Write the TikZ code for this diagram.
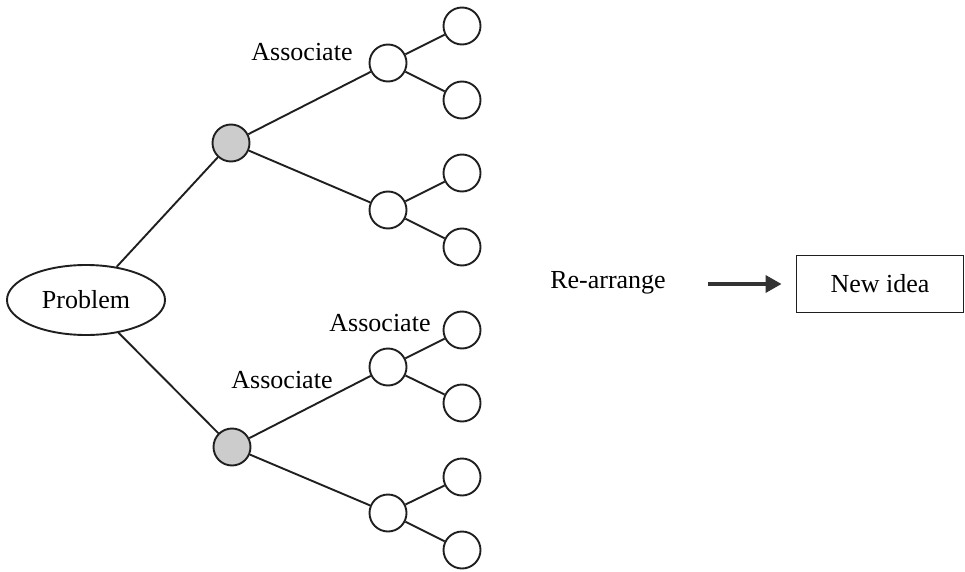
\documentclass[tikz,border=0pt]{standalone}
\usepackage{fontspec}
\setmainfont{Liberation Serif}
\usetikzlibrary{arrows.meta,shapes.geometric}
\begin{document}
\begin{tikzpicture}[x=1pt,y=-1pt,
  every node/.style={font=\fontsize{26}{30}\selectfont},
  lnk/.style={line width=1.9pt,draw=black!88},
  bub/.style={circle,draw=black!88,line width=1.9pt,minimum size=37pt,inner sep=0pt,fill=white},
  hub/.style={bub,fill=black!20},
  lbl/.style={inner sep=0pt}]
\useasboundingbox (0,0) rectangle (965,572);
\node[ellipse,draw=black!88,line width=1.9pt,minimum width=158pt,minimum height=70pt,inner sep=0pt] (prob) at (86,300) {Problem};
\node[hub] (g1) at (231,143) {};
\node[hub] (g2) at (232,447) {};
\node[bub] (a1) at (388,63) {};
\node[bub] (a2) at (388,210) {};
\node[bub] (b1) at (388,367) {};
\node[bub] (b2) at (388,513) {};
\node[bub] (l1) at (462,26) {};
\node[bub] (l2) at (462,100) {};
\node[bub] (l3) at (462,173) {};
\node[bub] (l4) at (462,247) {};
\node[bub] (l5) at (462,330) {};
\node[bub] (l6) at (462,403) {};
\node[bub] (l7) at (462,477) {};
\node[bub] (l8) at (462,550) {};
\draw[lnk] (prob) -- (g1);
\draw[lnk] (prob) -- (g2);
\draw[lnk] (g1) -- (a1);
\draw[lnk] (g1) -- (a2);
\draw[lnk] (g2) -- (b1);
\draw[lnk] (g2) -- (b2);
\draw[lnk] (a1) -- (l1);
\draw[lnk] (a1) -- (l2);
\draw[lnk] (a2) -- (l3);
\draw[lnk] (a2) -- (l4);
\draw[lnk] (b1) -- (l5);
\draw[lnk] (b1) -- (l6);
\draw[lnk] (b2) -- (l7);
\draw[lnk] (b2) -- (l8);
\node[lbl] (t1) at (302,52) {Associate};
\node[lbl] (t2) at (380,323) {Associate};
\node[lbl] (t3) at (282,380) {Associate};
\node[lbl] (re) at (608,283) {Re-arrange};
\node[draw=black!88,line width=1.9pt,minimum width=167pt,minimum height=57pt,inner sep=0pt] (new) at (880,284) {New idea};
\coordinate (s) at (708,284);
\coordinate (e) at ([xshift=-14pt]new.west);
\draw[line width=3.5pt,draw=black!80,-{Triangle[length=16pt,width=17pt]}] (s) -- (e);
\end{tikzpicture}
\end{document}
